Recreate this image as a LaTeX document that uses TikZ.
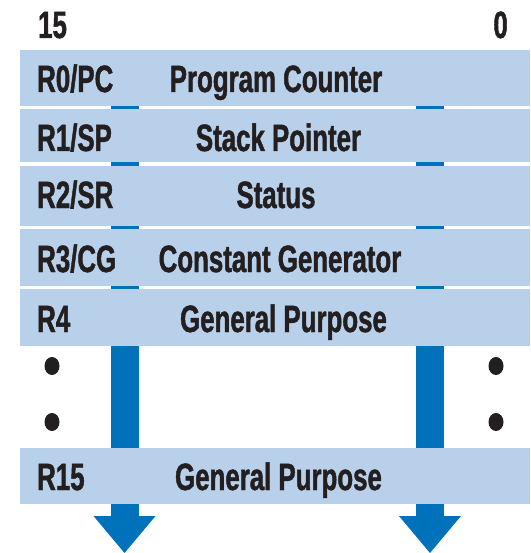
\documentclass[tikz,border=0pt]{standalone}
\usepackage{fontspec}
\setmainfont{Liberation Sans}[FakeStretch=0.68,BoldFeatures={FakeBold=1.2}]
\usetikzlibrary{arrows.meta}
\definecolor{rowblue}{RGB}{185,208,234}
\definecolor{darkblue}{RGB}{0,114,188}
\definecolor{ink}{RGB}{35,31,32}
\pgfdeclarelayer{bg}
\pgfsetlayers{bg,main}
\begin{document}
\begin{tikzpicture}[x=1pt,y=-1pt,
  rowbox/.style={draw=none, fill=rowblue, minimum width=510pt, inner sep=0pt, anchor=north west},
  txt/.style={inner sep=0pt, text=ink, font=\bfseries\fontsize{38}{38}\selectfont},
  regname/.style={txt, anchor=base west},
  regdesc/.style={txt, anchor=base},
  colarrow/.style={draw=darkblue, line width=28pt, -{Triangle[width=62pt,length=37pt,line width=0pt]}},
  dotmark/.style={fill=ink}]
\useasboundingbox (0,0) rectangle (530,553);
% header
\node[regname] (h15) at (38,38) {15};
\node[txt, anchor=base east] (h0) at (508,38) {0};
% rows
\node[rowbox, minimum height=56pt] (r0) at (20,50) {};
\node[rowbox, minimum height=53pt] (r1) at (20,109) {};
\node[rowbox, minimum height=60pt] (r2) at (20,166) {};
\node[rowbox, minimum height=57pt] (r3) at (20,229) {};
\node[rowbox, minimum height=57pt] (r4) at (20,289) {};
\node[rowbox, minimum height=56pt] (r15) at (20,448) {};
% labels
\node[regname] (n0) at (37,92) {R0/PC};
\node[regdesc] (d0) at (276,92) {Program Counter};
\node[regname] (n1) at (37,151) {R1/SP};
\node[regdesc] (d1) at (278.5,151) {Stack Pointer};
\node[regname] (n2) at (37,208) {R2/SR};
\node[regdesc] (d2) at (276,208) {Status};
\node[regname] (n3) at (37,272) {R3/CG};
\node[regdesc] (d3) at (280,272) {Constant Generator};
\node[regname] (n4) at (37,332) {R4};
\node[regdesc] (d4) at (283.5,332) {General Purpose};
\node[regname] (n15) at (37,490) {R15};
\node[regdesc] (d15) at (278.5,490) {General Purpose};
% dots
\fill[dotmark] (52,366) ellipse [x radius=7.5, y radius=9];
\fill[dotmark] (52,422) ellipse [x radius=7.5, y radius=9];
\fill[dotmark] (496,366) ellipse [x radius=7.5, y radius=9];
\fill[dotmark] (496,422) ellipse [x radius=7.5, y radius=9];
% arrows
\coordinate (la) at (124.5,553);
\coordinate (ra) at (430,553);
\begin{pgfonlayer}{bg}
\draw[colarrow] (la |- r0.south) -- (la);
\draw[colarrow] (ra |- r0.south) -- (ra);
\end{pgfonlayer}
\end{tikzpicture}
\end{document}
